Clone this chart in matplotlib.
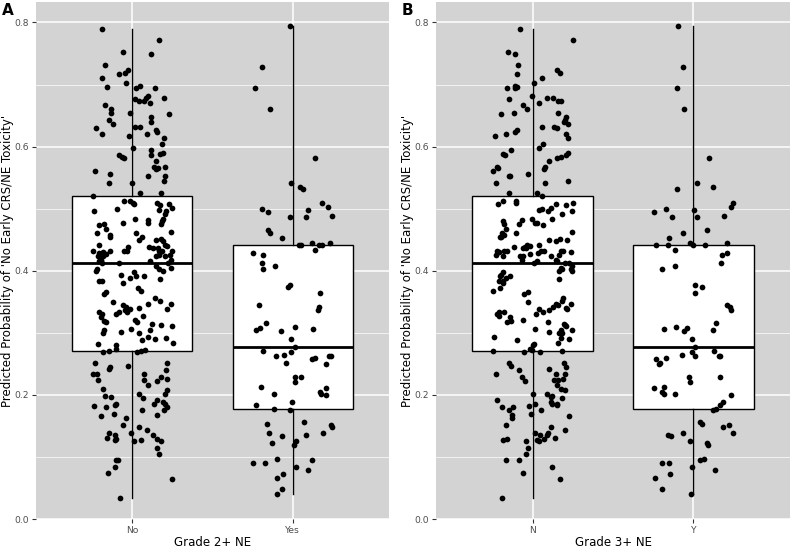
import matplotlib
matplotlib.use("Agg")
import matplotlib.pyplot as plt
import numpy as np

# predicted probability, patients without the NE grade
prob_no = [
    0.790, 0.771, 0.753, 0.749, 0.732, 0.717, 0.719, 0.723, 0.711, 0.703,
    0.696, 0.695, 0.697, 0.695, 0.677, 0.674, 0.673, 0.678, 0.681, 0.679,
    0.670, 0.667, 0.661, 0.654, 0.654, 0.653, 0.643, 0.636, 0.647, 0.639,
    0.630, 0.632, 0.632, 0.627, 0.624, 0.620, 0.617, 0.620, 0.614, 0.604,
    0.598, 0.594, 0.587, 0.588, 0.589, 0.587, 0.584, 0.582, 0.577, 0.567,
    0.564, 0.565, 0.567, 0.560, 0.556, 0.553, 0.552, 0.545, 0.541, 0.542,
    0.521, 0.526, 0.526, 0.513, 0.512, 0.509, 0.508, 0.509, 0.506, 0.508,
    0.501, 0.497, 0.500, 0.498, 0.497, 0.491, 0.484, 0.480, 0.475, 0.484,
    0.481, 0.477, 0.477, 0.474, 0.475, 0.461, 0.467, 0.458, 0.454, 0.460,
    0.455, 0.450, 0.463, 0.451, 0.448, 0.450, 0.442, 0.440, 0.441, 0.438,
    0.437, 0.437, 0.438, 0.432, 0.432, 0.431, 0.428, 0.423, 0.430, 0.424,
    0.427, 0.431, 0.415, 0.412, 0.417, 0.432, 0.431, 0.425, 0.423, 0.423,
    0.430, 0.432, 0.425, 0.418, 0.413, 0.408, 0.403, 0.399, 0.405, 0.412,
    0.416, 0.400, 0.403, 0.387, 0.393, 0.398, 0.392, 0.391, 0.389, 0.381,
    0.383, 0.383, 0.372, 0.368, 0.366, 0.363, 0.350, 0.345, 0.342, 0.337,
    0.334, 0.338, 0.340, 0.346, 0.356, 0.352, 0.347, 0.339, 0.333, 0.330,
    0.325, 0.319, 0.318, 0.330, 0.333, 0.327, 0.321, 0.318, 0.302, 0.306,
    0.304, 0.300, 0.314, 0.313, 0.311, 0.300, 0.288, 0.294, 0.305, 0.290,
    0.291, 0.284, 0.282, 0.280, 0.274, 0.269, 0.270, 0.269, 0.271, 0.272,
    0.251, 0.252, 0.245, 0.242, 0.246, 0.234, 0.233, 0.224, 0.233, 0.224,
    0.216, 0.223, 0.229, 0.240, 0.226, 0.209, 0.198, 0.197, 0.201, 0.195,
    0.208, 0.201, 0.182, 0.180, 0.184, 0.186, 0.175, 0.186, 0.191, 0.189,
    0.185, 0.180, 0.175, 0.166, 0.169, 0.167, 0.162, 0.152, 0.149, 0.144,
    0.138, 0.135, 0.129, 0.125, 0.139, 0.131, 0.135, 0.127, 0.129, 0.125,
    0.127, 0.115, 0.105, 0.095, 0.095, 0.084, 0.074, 0.064, 0.034,
]
jit_no = [
    -0.188, 0.168, -0.060, 0.118, -0.168, -0.085, -0.043, -0.029, -0.186, -0.041,
    -0.160, 0.025, 0.046, 0.139, 0.014, 0.043, 0.070, 0.087, 0.095, 0.199,
    0.112, -0.168, -0.130, -0.130, -0.012, 0.226, -0.147, -0.120, 0.118, 0.116,
    -0.224, 0.014, 0.050, 0.149, 0.151, -0.190, -0.023, 0.089, 0.199, 0.186,
    0.004, 0.116, 0.118, 0.174, 0.190, -0.083, -0.064, -0.050, 0.149, 0.133,
    0.145, 0.159, 0.201, -0.230, -0.137, 0.101, 0.205, 0.195, -0.147, -0.002,
    -0.244, 0.046, 0.180, -0.054, -0.017, 0.002, 0.008, 0.157, 0.174, 0.226,
    0.248, -0.238, -0.095, 0.166, 0.211, 0.201, 0.193, 0.184, 0.178, 0.014,
    0.101, 0.095, -0.060, -0.207, -0.176, -0.219, -0.161, -0.137, -0.141, 0.023,
    0.062, 0.041, 0.242, 0.180, 0.190, 0.145, 0.205, 0.217, -0.209, 0.104,
    0.130, 0.161, -0.029, -0.052, -0.031, -0.246, -0.205, -0.211, -0.182, -0.184,
    -0.166, -0.141, -0.205, -0.186, -0.193, 0.164, 0.184, 0.166, 0.149, 0.201,
    0.174, 0.246, 0.236, 0.244, 0.224, 0.145, 0.166, 0.190, 0.242, -0.081,
    0.112, -0.228, -0.219, 0.174, -0.068, 0.012, 0.025, 0.070, -0.017, -0.058,
    -0.209, -0.186, 0.035, 0.052, -0.161, -0.178, -0.118, -0.058, -0.039, -0.048,
    -0.033, -0.017, 0.039, 0.101, 0.143, 0.170, 0.244, 0.215, -0.205, -0.188,
    -0.193, -0.178, -0.166, -0.101, -0.085, 0.066, 0.014, 0.029, -0.068, -0.006,
    -0.178, -0.184, 0.122, 0.180, 0.246, 0.043, 0.058, 0.095, 0.112, 0.143,
    0.209, 0.253, -0.215, -0.104, -0.102, -0.182, -0.145, 0.029, 0.056, 0.077,
    -0.230, 0.219, -0.141, -0.147, -0.027, -0.244, -0.219, -0.213, 0.070, 0.075,
    0.101, 0.153, 0.178, 0.207, 0.219, -0.182, -0.172, -0.132, 0.039, 0.066,
    0.219, 0.205, -0.236, -0.166, -0.106, -0.099, 0.060, 0.135, 0.153, 0.193,
    0.205, 0.219, 0.199, -0.195, -0.116, 0.157, -0.037, -0.060, 0.039, 0.091,
    -0.006, 0.126, 0.157, 0.178, -0.147, -0.157, -0.110, -0.106, -0.099, 0.012,
    0.056, 0.151, 0.168, -0.099, -0.091, -0.110, -0.153, 0.250, -0.075,
]

# patients with the NE grade
prob_yes = [
    0.794, 0.728, 0.695, 0.661, 0.582, 0.542, 0.535, 0.532, 0.500, 0.494,
    0.487, 0.498, 0.487, 0.509, 0.503, 0.488, 0.466, 0.460, 0.453, 0.441,
    0.441, 0.444, 0.433, 0.441, 0.441, 0.444, 0.428, 0.426, 0.412, 0.408,
    0.403, 0.373, 0.377, 0.364, 0.345, 0.337, 0.341, 0.315, 0.304, 0.307,
    0.303, 0.309, 0.306, 0.290, 0.277, 0.269, 0.271, 0.263, 0.264, 0.252,
    0.258, 0.260, 0.262, 0.263, 0.250, 0.228, 0.221, 0.229, 0.213, 0.201,
    0.205, 0.202, 0.211, 0.200, 0.189, 0.183, 0.178, 0.175, 0.153, 0.156,
    0.139, 0.134, 0.135, 0.138, 0.152, 0.148, 0.122, 0.120, 0.126, 0.090,
    0.091, 0.097, 0.095, 0.084, 0.079, 0.072, 0.066, 0.048, 0.041,
]
jit_yes = [
    -0.014, -0.193, -0.236, -0.143, 0.137, -0.012, 0.043, 0.064, -0.193, -0.153,
    -0.019, 0.093, 0.083, 0.184, 0.219, 0.244, -0.157, -0.139, -0.064, 0.039,
    0.050, 0.122, 0.139, 0.164, 0.184, 0.234, -0.247, -0.184, -0.193, -0.112,
    -0.184, -0.029, -0.019, 0.168, -0.213, 0.157, 0.164, -0.168, -0.232, -0.205,
    -0.073, 0.012, 0.126, -0.008, 0.012, -0.012, -0.184, -0.106, -0.056, -0.043,
    0.122, 0.141, 0.226, 0.236, 0.207, 0.012, 0.012, 0.052, -0.195, -0.116,
    0.172, 0.178, 0.207, 0.209, -0.002, -0.232, -0.114, -0.019, -0.161, 0.070,
    -0.149, -0.066, 0.085, 0.188, 0.236, 0.247, -0.132, 0.006, 0.023, -0.247,
    -0.170, -0.101, 0.122, 0.021, 0.095, -0.060, -0.101, -0.066, -0.095,
]

panels = [
    ("A", "Grade 2+ NE", ["No", "Yes"]),
    ("B", "Grade 3+ NE", ["N", "Y"]),
]
ylab = "Predicted Probability of 'No Early CRS/NE Toxicity'"

bg = "#D3D3D3"
tick_col = "#4D4D4D"

plt.rcParams["font.family"] = "DejaVu Sans"
fig = plt.figure(figsize=(7.9, 5.48), dpi=100)

axes_pos = [[0.0456, 0.0529, 0.4468, 0.9435],
            [0.5519, 0.0529, 0.4481, 0.9435]]

for k, (tag, xlab, cats) in enumerate(panels):
    ax = fig.add_axes(axes_pos[k])
    ax.set_facecolor(bg)
    for s in ax.spines.values():
        s.set_visible(False)

    ax.boxplot([prob_no, prob_yes], positions=[1, 2], widths=0.75,
               patch_artist=True, showfliers=False, whis=1.5,
               boxprops=dict(facecolor="white", edgecolor="black", lw=1.0),
               medianprops=dict(color="black", lw=2.0),
               whiskerprops=dict(color="black", lw=1.0),
               capprops=dict(lw=0), zorder=2)

    if k == 0:
        jn, jy = jit_no, jit_yes
    else:
        jn, jy = jit_no[::-1], jit_yes[::-1]
    ax.scatter(1 + np.array(jn), prob_no, s=17, color="black", lw=0, zorder=3)
    ax.scatter(2 + np.array(jy), prob_yes, s=17, color="black", lw=0, zorder=3)

    ax.set_xlim(0.4, 2.6)
    ax.set_ylim(0, 0.833)
    ax.set_xticks([1, 2])
    ax.set_xticklabels(cats)
    ax.set_yticks([0.0, 0.2, 0.4, 0.6, 0.8])
    ax.set_yticklabels(["0.0", "0.2", "0.4", "0.6", "0.8"])
    ax.set_yticks([0.1, 0.3, 0.5, 0.7], minor=True)
    ax.grid(True, which="major", color="white", lw=1.1, zorder=0)
    ax.grid(True, which="minor", axis="y", color="white", lw=0.5, zorder=0)
    ax.set_axisbelow(True)
    ax.tick_params(which="major", length=3, width=0.8, color="#333333",
                   labelsize=6.6, labelcolor=tick_col, pad=2)
    ax.tick_params(which="minor", length=0)

    ax.set_xlabel(xlab, fontsize=8.5, va="top")
    ax.xaxis.set_label_coords(0.5, -0.033)
    ax.set_ylabel(ylab, fontsize=8.5)
    ax.yaxis.set_label_coords(-0.063, 0.5)

    fig.text(axes_pos[k][0] - 0.043, 0.995, tag, fontsize=11,
             fontweight="bold", ha="left", va="top")

fig.savefig("out.png", dpi=100)
